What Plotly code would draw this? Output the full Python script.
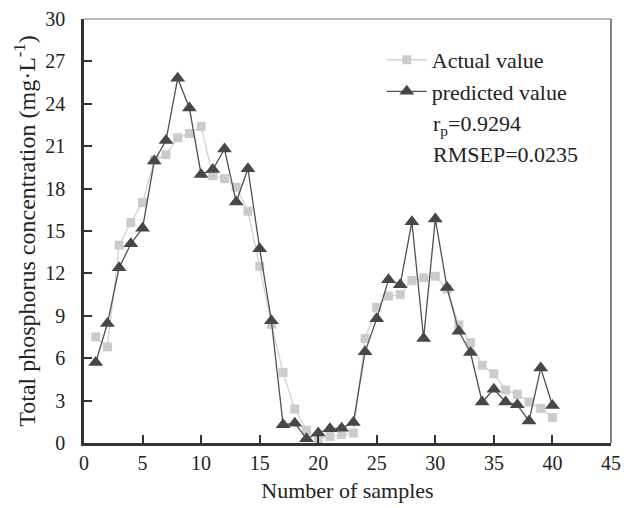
import plotly.graph_objects as go

# Sample index
samples = list(range(1, 41))

# Measured total phosphorus (mg/L)
actual = [7.5, 6.8, 14.0, 15.6, 17.0, 20.0, 20.4, 21.6, 21.9, 22.4,
          18.9, 18.7, 18.1, 16.4, 12.5, 8.4, 5.0, 2.4, 0.9, 0.3,
          0.45, 0.6, 0.7, 7.4, 9.6, 10.4, 10.5, 11.5, 11.7, 11.8,
          10.9, 8.35, 7.1, 5.5, 4.9, 3.75, 3.45, 2.9, 2.45, 1.8]

# Model predictions (mg/L)
predicted = [5.7, 8.45, 12.4, 14.1, 15.2, 19.95, 21.4, 25.8, 23.7, 19.0,
             19.35, 20.8, 17.05, 19.4, 13.75, 8.65, 1.3, 1.4, 0.3, 0.7,
             1.0, 1.05, 1.45, 6.45, 8.8, 11.55, 11.2, 15.65, 7.4, 15.85,
             11.0, 7.9, 6.4, 2.9, 3.8, 2.9, 2.7, 1.55, 5.3, 2.65]

x_ticks = list(range(0, 46, 5))
y_ticks = list(range(0, 31, 3))

FONT = "'Times New Roman', 'Liberation Serif', Times, serif"

fig = go.Figure()

fig.add_trace(go.Scatter(
    x=samples, y=actual, mode="lines+markers", name="Actual value",
    line=dict(color="#d2d2d2", width=1.3),
    marker=dict(symbol="square", size=9, color="#cbcbcb"),
))

fig.add_trace(go.Scatter(
    x=samples, y=predicted, mode="lines+markers", name="predicted value",
    line=dict(color="#505050", width=1.3),
    marker=dict(symbol="triangle-up", size=13, color="#474747"),
))

axis_common = dict(
    showgrid=False, zeroline=False, automargin=False,
    showline=True, linecolor="#333333", linewidth=2.5,
    ticks="inside", ticklen=8, tickwidth=1.5, tickcolor="#333333",
    tickfont=dict(family=FONT, size=20, color="#222222"),
)

fig.update_layout(
    width=633, height=508,
    margin=dict(l=84, r=22, t=19, b=65, autoexpand=False),
    paper_bgcolor="white", plot_bgcolor="white",
    font=dict(family=FONT, color="#222222"),
    xaxis=dict(
        range=[0, 45], tickvals=x_ticks,
        title=dict(text="Number of samples", font=dict(family=FONT, size=22), standoff=10),
        ticklabelstandoff=0,
        **axis_common,
    ),
    yaxis=dict(
        range=[0, 30], tickvals=y_ticks,
        title=dict(text="Total phosphorus concentration (mg·L<sup>-1</sup>)",
                   font=dict(family=FONT, size=24, color="#222222"), standoff=3),
        ticklabelstandoff=12,
        **axis_common,
    ),
    legend=dict(
        x=0.565, y=0.953, xanchor="left", yanchor="top",
        bgcolor="rgba(0,0,0,0)", borderwidth=0,
        font=dict(family=FONT, size=22, color="#222222"),
        itemwidth=40, tracegroupgap=0,
    ),
    showlegend=True,
)

# Thin frame on the top and right of the plotting area
fig.add_shape(type="line", xref="paper", yref="paper", x0=0, x1=1, y0=1, y1=1,
              line=dict(color="#777777", width=1.2))
fig.add_shape(type="line", xref="paper", yref="paper", x0=1, x1=1, y0=0, y1=1,
              line=dict(color="#333333", width=1.2))

# Model statistics
fig.add_annotation(xref="paper", yref="paper", x=0.659, y=0.750, xanchor="left", yanchor="middle",
                   text="r<sub>p</sub>=0.9294", showarrow=False,
                   font=dict(family=FONT, size=22, color="#222222"))
fig.add_annotation(xref="paper", yref="paper", x=0.659, y=0.680, xanchor="left", yanchor="middle",
                   text="RMSEP=0.0235", showarrow=False,
                   font=dict(family=FONT, size=22, color="#222222"))

fig.write_html("out.html")
